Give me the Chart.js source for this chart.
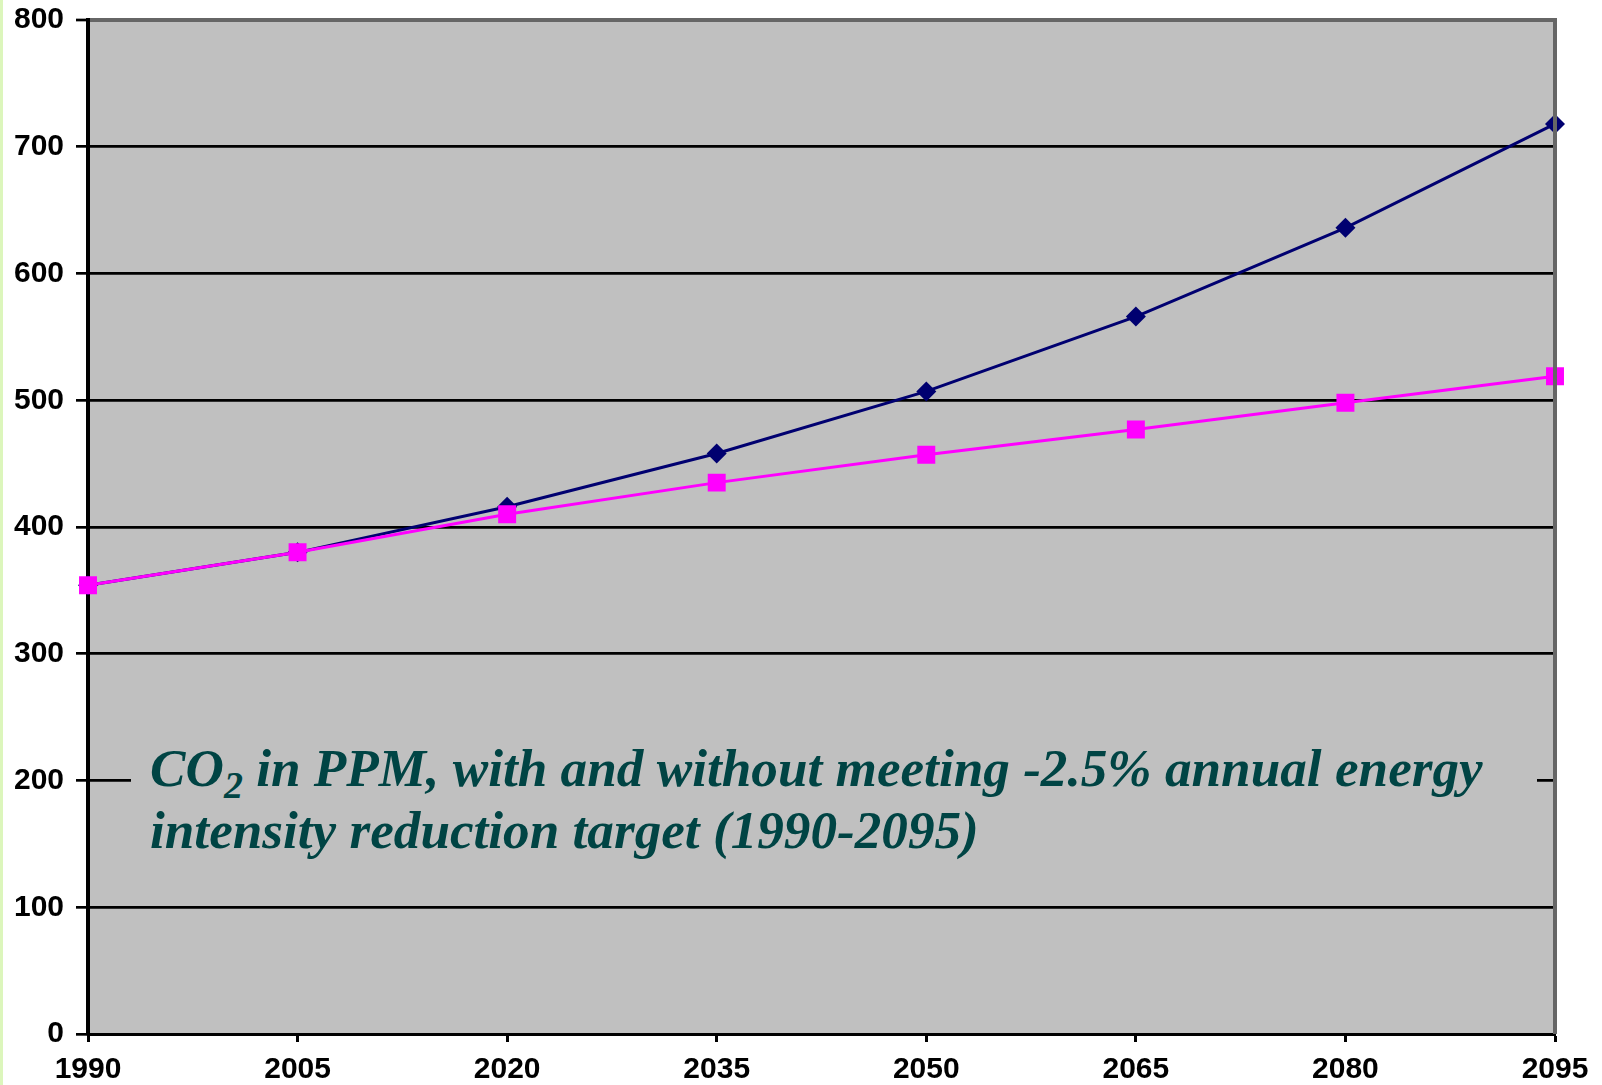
<!DOCTYPE html>
<html>
<head>
<meta charset="utf-8">
<script src="https://cdn.jsdelivr.net/npm/chart.js@4/dist/chart.umd.min.js"></script>
<style>
  html, body { margin: 0; padding: 0; background: #ffffff; }
  #wrap { position: relative; width: 1602px; height: 1085px; overflow: hidden; }
  #strip { position: absolute; left: 0; top: 0; width: 3px; height: 1085px; background: #dcf6bc; }
  #note { position: absolute; left: 131px; top: 715px; width: 1406px; height: 150px; background: #c0c0c0;
          font-family: "Liberation Serif", "Times New Roman", serif; font-style: italic; font-weight: bold;
          font-size: 53.2px; color: #004444; white-space: nowrap; }
  #note .ln { position: absolute; left: 19px; line-height: 62px; height: 62px; }
  #note sub { font-size: 38px; line-height: 0; vertical-align: -12px; }
</style>
</head>
<body>
<div id="wrap">
  <canvas id="c" width="1602" height="1085"></canvas>
  <div id="strip"></div>
  <div id="note">
    <div class="ln" style="top:23px">CO<sub>2</sub> in PPM, with and without meeting -2.5% annual energy</div>
    <div class="ln" style="top:85px">intensity reduction target (1990-2095)</div>
  </div>
</div>
<script>
const years = ['1990', '2005', '2020', '2035', '2050', '2065', '2080', '2095'];
const withoutTarget = [354, 380, 416, 458, 507, 566, 636, 718];
const withTarget = [354, 380, 410, 435, 457, 477, 498, 519];
const yMin = 0, yMax = 800, yStep = 100;

const plotBg = {
  id: 'plotBg',
  beforeDraw(chart) {
    const { ctx, chartArea: a } = chart;
    ctx.save();
    ctx.fillStyle = '#c0c0c0';
    ctx.fillRect(a.left, a.top, a.right - a.left, a.bottom - a.top);
    ctx.restore();
  },
  afterDatasetsDraw(chart) {
    const { ctx, chartArea: a } = chart;
    ctx.save();
    ctx.strokeStyle = '#666666';
    ctx.lineWidth = 4;
    ctx.beginPath();
    ctx.moveTo(a.right, a.top - 2);
    ctx.lineTo(a.right, a.bottom);
    ctx.stroke();
    ctx.restore();
  }
};

new Chart(document.getElementById('c'), {
  type: 'line',
  data: {
    labels: years,
    datasets: [
      {
        label: 'With target',
        data: withTarget,
        borderColor: '#ff00ff',
        backgroundColor: '#ff00ff',
        borderWidth: 3,
        pointStyle: 'rect',
        pointRadius: 12.7,
        pointBorderWidth: 0,
        tension: 0,
        order: 0
      },
      {
        label: 'Without target',
        data: withoutTarget,
        borderColor: '#000070',
        backgroundColor: '#000070',
        borderWidth: 3,
        pointStyle: 'rectRot',
        pointRadius: 10,
        pointBorderWidth: 0,
        tension: 0,
        order: 1
      }
    ]
  },
  options: {
    responsive: false,
    animation: false,
    devicePixelRatio: 1,
    layout: { padding: { top: 20, right: 47, left: 0, bottom: 0 } },
    plugins: { legend: { display: false }, tooltip: { enabled: false } },
    scales: {
      x: {
        offset: false,
        afterFit(s) { s.height = 51; s.paddingLeft = 0; s.paddingRight = 0; },
        grid: { drawOnChartArea: false, drawTicks: true, tickLength: 8, tickWidth: 3, tickColor: '#000000' },
        border: { display: true, color: '#000000', width: 3 },
        ticks: { color: '#000000', padding: 10, maxRotation: 0, autoSkip: false,
                 font: { family: 'Liberation Sans, Arial, sans-serif', size: 30, weight: 'bold' } }
      },
      y: {
        min: yMin, max: yMax,
        afterFit(s) { s.width = 88; s.paddingTop = 0; s.paddingBottom = 0; },
        grid: {
          color: (c) => (c.tick && c.tick.value === yMax ? '#666666' : '#000000'),
          lineWidth: (c) => (c.tick && c.tick.value === yMax ? 4 : 2.7),
          tickColor: '#000000', tickLength: 12, tickWidth: 2.7, drawTicks: true
        },
        border: { display: true, color: '#000000', width: 4 },
        ticks: { stepSize: yStep, color: '#000000', padding: 12,
                 font: { family: 'Liberation Sans, Arial, sans-serif', size: 30, weight: 'bold' } }
      }
    }
  },
  plugins: [plotBg]
});
</script>
</body>
</html>
